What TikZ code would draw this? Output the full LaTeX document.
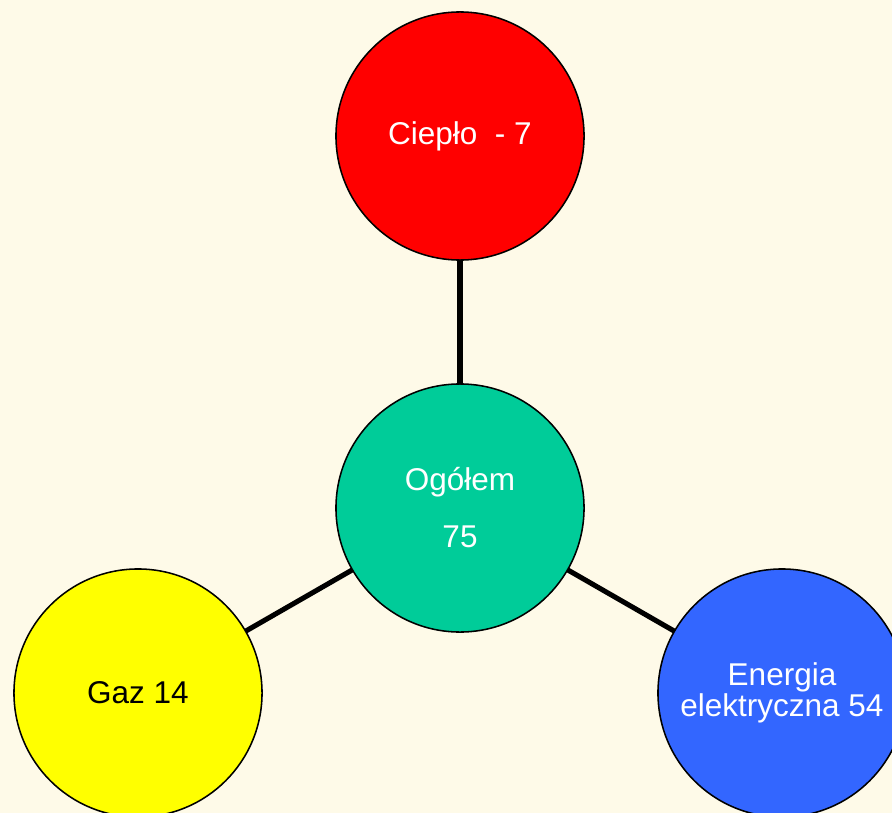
\documentclass[tikz,border=0pt]{standalone}
\usepackage{fontspec}
\setmainfont{Liberation Sans}
\usetikzlibrary{positioning}
\definecolor{cream}{HTML}{FEFAE8}
\definecolor{heatred}{HTML}{FF0000}
\definecolor{totalgreen}{HTML}{00CC99}
\definecolor{gasyellow}{HTML}{FFFF00}
\definecolor{powerblue}{HTML}{3366FF}
\tikzstyle{ball}=[circle, draw=black, line width=1.1pt, minimum size=6.2cm, inner sep=0pt, outer sep=0pt, align=center, font=\fontsize{22.4}{22.4}\selectfont]
\tikzstyle{link}=[line width=3.6pt]

\begin{document}
\begin{tikzpicture}[x=0.025cm, y=-0.025cm]
	\useasboundingbox (0,0) rectangle (892,813);
	\clip (0,0) rectangle (892,813);
	\fill[cream] (0,0) rectangle (892,813);

	\node[ball, fill=heatred, text=white](heat) at (460,136){Ciepło~~- 7};
	\node[ball, fill=totalgreen, text=white, font=\fontsize{22.4}{40.5}\selectfont](total) at (460,508){Ogółem\\75};
	\node[ball, fill=gasyellow, text=black](gas) at (138,693){Gaz 14};
	\node[ball, fill=powerblue, text=white, font=\fontsize{22.4}{20.6}\selectfont](power) at (782,693){Energia\\elektryczna 54};

	\draw[link] (total) -- (heat);
	\draw[link] (total) -- (gas);
	\draw[link] (total) -- (power);

\end{tikzpicture}
\end{document}
